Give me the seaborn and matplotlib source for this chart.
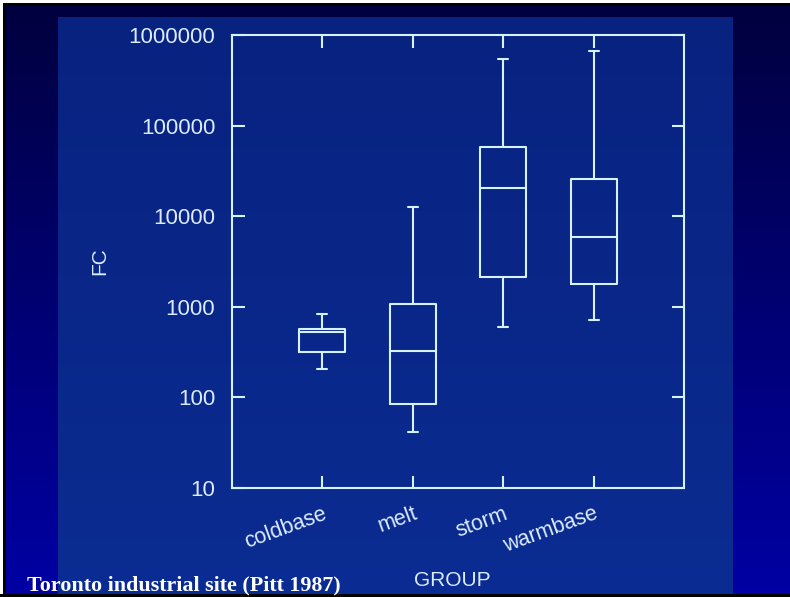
import numpy as np
import pandas as pd
import matplotlib
matplotlib.use("Agg")
import matplotlib.pyplot as plt
import matplotlib.ticker as mticker
from matplotlib.patches import Rectangle
import seaborn as sns

# ---- data ----
categories = ["coldbase", "melt", "storm", "warmbase"]
whisker_low = [206, 41.5, 598, 714]
q1 = [317, 84.5, 2130, 1790]
median = [527, 325, 20500, 5890]
q3 = [569, 1075, 58000, 25800]
whisker_high = [832, 12600, 543000, 665000]
y_ticks = [10, 100, 1000, 10000, 100000, 1000000]
title_text = "Toronto industrial site (Pitt 1987)"

rows = []
for i, c in enumerate(categories):
    for v in (whisker_low[i], q1[i], median[i], q3[i], whisker_high[i]):
        rows.append({"GROUP": c, "FC": v})
df = pd.DataFrame(rows)

LINE = "#d6f2ff"
TEXT = "#dcecff"

sns.set_style("white")
plt.rcParams["font.family"] = ["Liberation Sans", "DejaVu Sans"]

W, H = 790, 597
fig = plt.figure(figsize=(W / 100, H / 100), dpi=100)

# ---- background (slide gradient + photo area + borders) ----
bg = fig.add_axes([0, 0, 1, 1], zorder=-10)
bg.axis("off")
top_c = np.array([0x00, 0x00, 0x3e]) / 255
bot_c = np.array([0x00, 0x00, 0xa4]) / 255
t = np.linspace(0, 1, 256)[:, None]
grad = (top_c[None, :] * (1 - t) + bot_c[None, :] * t)[:, None, :]
grad = np.repeat(grad, 2, axis=1)
bg.imshow(grad, extent=(0, W, H, 0), aspect="auto", interpolation="bilinear")
top_p = np.array([0x08, 0x22, 0x80]) / 255
bot_p = np.array([0x0b, 0x2c, 0x92]) / 255
pgrad = (top_p[None, :] * (1 - t) + bot_p[None, :] * t)[:, None, :]
pgrad = np.repeat(pgrad, 2, axis=1)
bg.imshow(pgrad, extent=(58, 733, H, 17), aspect="auto", interpolation="bilinear")
bg.add_patch(Rectangle((0, 0), W, 3, color="white", lw=0))
bg.add_patch(Rectangle((0, 0), 3, H, color="white", lw=0))
bg.add_patch(Rectangle((3, 3), W, 3, color="black", lw=0))
bg.add_patch(Rectangle((3, 3), 3, H, color="black", lw=0))
bg.add_patch(Rectangle((0, 594), W, 3, color="black", lw=0))
bg.set_xlim(0, W)
bg.set_ylim(H, 0)

# ---- main plot ----
L, R, T, B = 232, 684, 35, 488
ax = fig.add_axes([L / W, (H - B) / H, (R - L) / W, (B - T) / H])
ax.set_facecolor("none")

sns.boxplot(
    data=df, x="GROUP", y="FC", order=categories, ax=ax,
    log_scale=True, whis=(0, 100), width=0.51, fill=False,
    color=LINE, linewidth=1.5, capwidths=0.11, showfliers=False,
)

ax.set_xlim(-1, 4)
ax.set_ylim(10, 1e6)
ax.yaxis.set_major_locator(mticker.FixedLocator(y_ticks))
ax.yaxis.set_minor_locator(mticker.NullLocator())
ax.yaxis.set_major_formatter(mticker.FuncFormatter(lambda v, p: f"{int(round(v))}"))
ax.set_xticks(range(len(categories)))
ax.set_xticklabels(categories, rotation=20, ha="right", va="top",
                   rotation_mode="anchor")

ax.tick_params(axis="both", which="major", direction="in", length=9, width=1.5,
               color=LINE, labelcolor=TEXT, labelsize=16,
               top=True, right=True, bottom=True, left=True)
ax.tick_params(axis="y", pad=12)
ax.tick_params(axis="x", pad=11, labelsize=15.5)
for s in ax.spines.values():
    s.set_color(LINE)
    s.set_linewidth(1.5)
    s.set_visible(True)

ax.set_ylabel("FC", color=TEXT, fontsize=15, va="center")
ax.yaxis.set_label_coords((100 - L) / (R - L), 0.5)
ax.set_xlabel("GROUP", color=TEXT, fontsize=15, va="center")
ax.xaxis.set_label_coords((452 - L) / (R - L), (B - 580) / (B - T))

fig.text(27 / W, 1 - 590 / H, title_text, color="white", fontsize=15.8,
         fontweight="bold", family=["Liberation Serif", "DejaVu Serif"],
         ha="left", va="baseline")

fig.savefig("out.png", dpi=100)
